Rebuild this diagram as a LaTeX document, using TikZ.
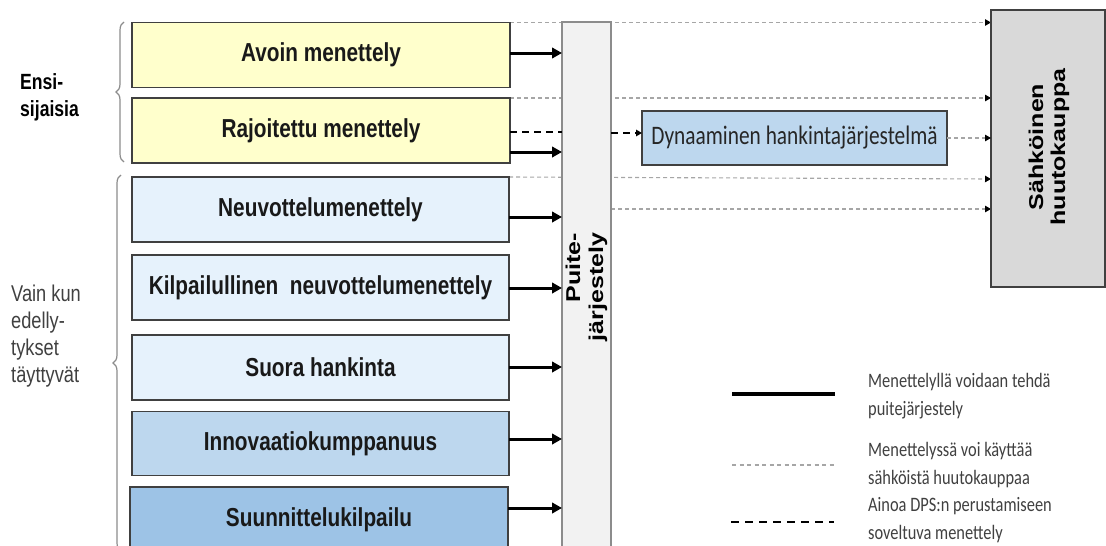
\documentclass[tikz,border=0pt]{standalone}
\usepackage{fontspec}
\setmainfont{Liberation Sans}
\newfontfamily\narrowsans{Liberation Sans}[FakeStretch=0.8]
\newfontfamily\tallsans{Liberation Sans}[FakeStretch=1.25]
\newfontfamily\narrowcal{Carlito}[FakeStretch=0.8]
\usetikzlibrary{arrows.meta,calc,decorations.pathreplacing,backgrounds}

\definecolor{procyellow}{HTML}{FFFFCC}
\definecolor{procpale}{HTML}{E6F2FC}
\definecolor{procmid}{HTML}{BDD7EE}
\definecolor{procdeep}{HTML}{9DC3E6}
\definecolor{barfill}{HTML}{F2F2F2}
\definecolor{barline}{HTML}{8C8C8C}
\definecolor{auctionfill}{HTML}{D9D9D9}
\definecolor{edgegray}{HTML}{404040}
\definecolor{txtgray}{HTML}{404040}
\definecolor{dotgray}{HTML}{A6A6A6}

\tikzset{
  proc/.style={draw=edgegray, line width=1.5pt, minimum width=378pt,
    minimum height=65pt, inner sep=0pt, outer sep=0pt, text=black!90,
    font=\narrowsans\bfseries\fontsize{26}{28}\selectfont},
  fwarrow/.style={black, line width=3pt, -{Triangle[length=10pt,width=10.5pt]}},
  auctionline/.style={draw=dotgray, line width=1.1pt, dash pattern=on 4pt off 3pt,
    -{Triangle[length=6pt,width=6.5pt,color=black]}},
  dpsline/.style={black, line width=1.6pt, dash pattern=on 7pt off 5pt},
  legendtxt/.style={anchor=west, inner sep=0pt, align=left, text=txtgray,
    font=\narrowcal\fontsize{20.5}{28}\selectfont},
  groupbrace/.style={draw=barline, line width=1.2pt, decorate,
    decoration={brace, amplitude=8pt}},
}

\begin{document}
\begin{tikzpicture}[x=1pt,y=-1pt]
\useasboundingbox (0,0) rectangle (1106,546);

% procedure boxes
\node[proc, fill=procyellow] (avoin) at (321,55) {Avoin menettely};
\node[proc, fill=procyellow] (rajoit) at (321,130.5) {Rajoitettu menettely};
\node[proc, fill=procpale, minimum width=377pt] (neuv) at (320.5,209.5) {Neuvottelumenettely};
\node[proc, fill=procpale, minimum width=377pt] (kilp) at (320.5,287.5) {Kilpailullinen\ \ neuvottelumenettely};
\node[proc, fill=procpale, minimum width=377pt] (suora) at (320.5,367.5) {Suora hankinta};
\node[proc, fill=procmid, minimum width=377pt, minimum height=64pt] (innov) at (320.5,443.5) {Innovaatiokumppanuus};
\node[proc, fill=procdeep] (suunn) at (319,519.5) {Suunnittelukilpailu};

% framework agreement bar
\node[draw=barline, line width=1.5pt, fill=barfill, minimum width=49pt,
      minimum height=548pt, inner sep=0pt, outer sep=0pt] (puite) at (586.5,296) {};
\node[rotate=90, align=right, inner sep=0pt,
      font=\tallsans\bfseries\fontsize{20}{23}\selectfont] (puitetxt) at (586.5,287) {Puite-\\järjestely};

% electronic auction
\node[draw=edgegray, line width=1.5pt, fill=auctionfill, minimum width=114pt,
      minimum height=277pt, inner sep=0pt, outer sep=0pt] (sahk) at (1048,148.5) {};
\node[rotate=90, align=center, inner sep=0pt,
      font=\tallsans\bfseries\fontsize{20}{22}\selectfont] (sahktxt) at (1049,147) {Sähköinen\\huutokauppa};

% dynamic purchasing system
\node[draw=edgegray, line width=1.5pt, fill=procmid, minimum width=305pt,
      minimum height=54pt, inner sep=0pt, outer sep=0pt, text=black!85,
      font=\narrowcal\fontsize{26.7}{30}\selectfont] (dps) at (794.5,138) {Dynaaminen hankintajärjestelmä};

% auction links, behind the bar
\begin{scope}[on background layer]
  \draw[auctionline] (avoin.north east) -- (sahk.west |- avoin.north east);
  \draw[auctionline] (rajoit.north east) -- (sahk.west |- rajoit.north east);
  \draw[auctionline] (neuv.north east) -- (sahk.west |- 0,179);
  \draw[auctionline] (puite.east |- 0,209) -- (sahk.west |- 0,209);
\end{scope}
\draw[auctionline] (dps.east) -- (dps.east -| sahk.west);

% framework agreement arrows
\draw[fwarrow] (avoin.east |- 0,53) -- (puite.west |- 0,53);
\draw[fwarrow] (rajoit.east |- 0,152) -- (puite.west |- 0,152);
\draw[fwarrow] (neuv.east |- 0,217) -- (puite.west |- 0,217);
\draw[fwarrow] (kilp.east |- 0,288) -- (puite.west |- 0,288);
\draw[fwarrow] (suora.east |- 0,367) -- (puite.west |- 0,367);
\draw[fwarrow] (innov.east |- 0,439) -- (puite.west |- 0,439);
\draw[fwarrow] (suunn.east |- 0,508) -- (puite.west |- 0,508);

% restricted procedure to DPS
\draw[dpsline] (rajoit.east |- 0,132) -- (puite.west |- 0,132);
\draw[dpsline, -{Triangle[length=6pt,width=6.5pt]}] (puite.east |- 0,133) -- (dps.west |- 0,133);

% group braces and labels
\draw[groupbrace] (124,162) -- (124,22);
\draw[groupbrace] (121,551) -- (121,175);
\node[anchor=west, inner sep=0pt, align=left,
      font=\narrowsans\bfseries\fontsize{22}{27}\selectfont] (ensi) at (20,97) {Ensi-\\sijaisia};
\node[anchor=west, inner sep=0pt, align=left, text=txtgray,
      font=\narrowsans\fontsize{22.8}{27}\selectfont] (vain) at (11,336) {Vain kun\\edelly-\\tykset\\täyttyvät};

% legend
\coordinate (k1a) at (732,394); \coordinate (k1b) at (835,394);
\coordinate (k2a) at (732,465); \coordinate (k2b) at (835,465);
\coordinate (k3a) at (731,522); \coordinate (k3b) at (834,522);
\draw[black, line width=4pt] (k1a) -- (k1b);
\draw[dotgray, line width=1.2pt, dash pattern=on 4pt off 3.5pt] (k2a) -- (k2b);
\draw[black, line width=2pt, dash pattern=on 8pt off 6pt] (k3a) -- (k3b);
\node[legendtxt] (k1t) at (868,396) {Menettelyllä voidaan tehdä\\puitejärjestely};
\node[legendtxt] (k2t) at (868,465) {Menettelyssä voi käyttää\\sähköistä huutokauppaa};
\node[legendtxt] (k3t) at (868,520) {Ainoa DPS:n perustamiseen\\soveltuva menettely};
\end{tikzpicture}
\end{document}
